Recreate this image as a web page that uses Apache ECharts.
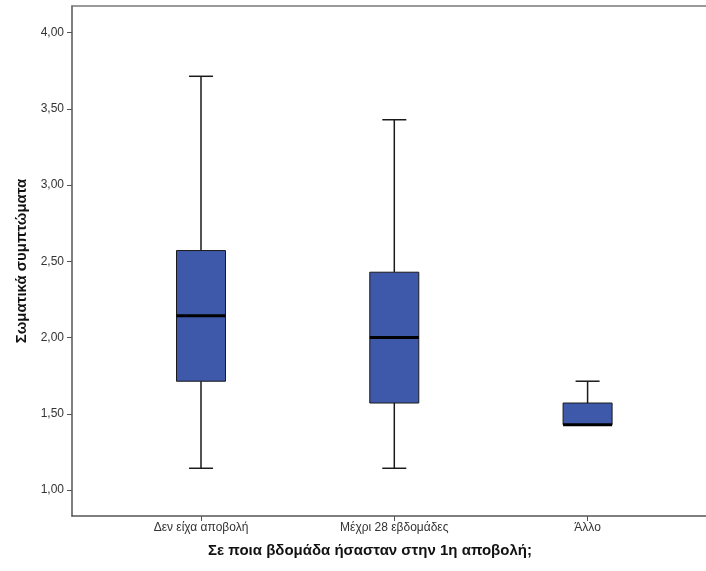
<!DOCTYPE html>
<html>
<head>
<meta charset="utf-8">
<script src="https://cdn.jsdelivr.net/npm/echarts@6/dist/echarts.min.js"></script>
<style>
  html, body { margin: 0; padding: 0; background: #ffffff; overflow: hidden; }
  #chart { width: 706px; height: 571px; }
</style>
</head>
<body>
<div id="chart"></div>
<script>
// Groups on the horizontal axis
const categories = ['Δεν είχα αποβολή', 'Μέχρι 28 εβδομάδες', 'Άλλο'];
// Five-number summaries per group
const mins    = [1.143, 1.143, 1.429];
const q1s     = [1.714, 1.571, 1.429];
const medians = [2.143, 2.000, 1.429];
const q3s     = [2.571, 2.429, 1.571];
const maxs    = [3.714, 3.429, 1.714];
// Value axis tick labels
const yTicks = [1.0, 1.5, 2.0, 2.5, 3.0, 3.5, 4.0];

const xPositions = categories.map((c, i) => i + 1);
const boxData = categories.map((c, i) => [xPositions[i], mins[i], q1s[i], medians[i], q3s[i], maxs[i]]);

const FONT = '"Liberation Sans", Arial, sans-serif';
const BOX_W = 49;
const CAP_W = 24;
const X_MIN = 0.3326;
const X_MAX = 3.6126;

function renderBox(params, api) {
  const x = api.value(0);
  const pMin = api.coord([x, api.value(1)]);
  const pQ1 = api.coord([x, api.value(2)]);
  const pMed = api.coord([x, api.value(3)]);
  const pQ3 = api.coord([x, api.value(4)]);
  const pMax = api.coord([x, api.value(5)]);
  const cx = pQ1[0];
  const lineStyle = { stroke: '#1a1a1a', lineWidth: 1.5 };
  const children = [];
  // whiskers with short end caps
  if (pMax[1] < pQ3[1] - 0.5) {
    children.push({ type: 'line', shape: { x1: cx, y1: pQ3[1], x2: cx, y2: pMax[1] }, style: lineStyle });
    children.push({ type: 'line', shape: { x1: cx - CAP_W / 2, y1: pMax[1], x2: cx + CAP_W / 2, y2: pMax[1] }, style: lineStyle });
  }
  if (pMin[1] > pQ1[1] + 0.5) {
    children.push({ type: 'line', shape: { x1: cx, y1: pQ1[1], x2: cx, y2: pMin[1] }, style: lineStyle });
    children.push({ type: 'line', shape: { x1: cx - CAP_W / 2, y1: pMin[1], x2: cx + CAP_W / 2, y2: pMin[1] }, style: lineStyle });
  }
  // interquartile box
  children.push({
    type: 'rect',
    shape: { x: cx - BOX_W / 2, y: pQ3[1], width: BOX_W, height: pQ1[1] - pQ3[1] },
    style: { fill: '#3f59aa', stroke: '#1a1a1a', lineWidth: 1 }
  });
  // median
  children.push({
    type: 'line',
    shape: { x1: cx - BOX_W / 2, y1: pMed[1], x2: cx + BOX_W / 2, y2: pMed[1] },
    style: { stroke: '#000000', lineWidth: 3 }
  });
  return { type: 'group', children: children };
}

const chart = echarts.init(document.getElementById('chart'), null, { renderer: 'canvas' });
chart.setOption({
  animation: false,
  backgroundColor: '#ffffff',
  textStyle: { fontFamily: FONT },
  grid: { left: 72, right: 0, top: 6, bottom: 55, show: false },
  xAxis: [{
    type: 'value',
    min: X_MIN,
    max: X_MAX,
    splitLine: { show: false },
    axisLine: { show: true, onZero: false, lineStyle: { color: '#555555', width: 1.5 } },
    axisTick: { show: true, length: 5, customValues: xPositions, lineStyle: { color: '#555555', width: 1 } },
    axisLabel: {
      customValues: xPositions,
      margin: 6,
      color: '#333333',
      fontSize: 12,
      fontFamily: FONT,
      formatter: v => categories[Math.round(v) - 1] || ''
    },
    name: 'Σε ποια βδομάδα ήσασταν στην 1η αποβολή;',
    nameLocation: 'middle',
    nameGap: 27,
    nameTextStyle: { fontSize: 15, fontWeight: 'bold', color: '#111111', fontFamily: FONT, padding: [0, 38, 0, 0] }
  }, {
    // top frame line
    type: 'value',
    position: 'top',
    min: X_MIN,
    max: X_MAX,
    splitLine: { show: false },
    axisLine: { show: true, onZero: false, lineStyle: { color: '#7a7a7a', width: 1.5 } },
    axisTick: { show: false },
    axisLabel: { show: false }
  }],
  yAxis: {
    type: 'value',
    min: 0.83,
    max: 4.175,
    splitLine: { show: false },
    axisLine: { show: true, onZero: false, lineStyle: { color: '#555555', width: 1.5 } },
    axisTick: { show: true, length: 5, customValues: yTicks, lineStyle: { color: '#555555', width: 1 } },
    axisLabel: {
      customValues: yTicks,
      margin: 8,
      color: '#333333',
      fontSize: 12,
      fontFamily: FONT,
      formatter: v => v.toFixed(2).replace('.', ',')
    },
    name: 'Σωματικά συμπτώματα',
    nameLocation: 'middle',
    nameGap: 40,
    nameTextStyle: { fontSize: 15, fontWeight: 'bold', color: '#111111', fontFamily: FONT }
  },
  series: [{
    type: 'custom',
    xAxisIndex: 0,
    renderItem: renderBox,
    encode: { x: 0, y: [1, 2, 3, 4, 5] },
    data: boxData,
    clip: false
  }]
});
</script>
</body>
</html>
